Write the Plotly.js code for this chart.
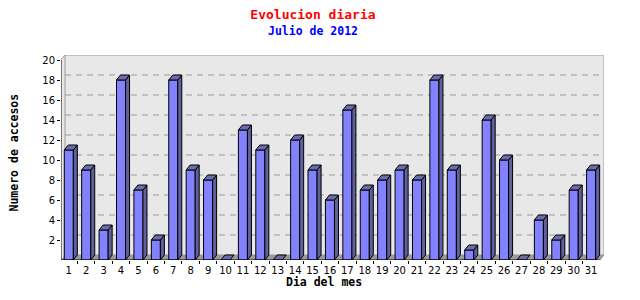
<!DOCTYPE html>
<html>
<head>
<meta charset="utf-8">
<script src="https://cdn.plot.ly/plotly-3.0.1.min.js"></script>
<style>html,body{margin:0;padding:0;background:#fff}#chart{width:640px;height:300px}</style>
</head>
<body>
<div id="chart"></div>
<script>
// ---- data ----
const days = [1,2,3,4,5,6,7,8,9,10,11,12,13,14,15,16,17,18,19,20,21,22,23,24,25,26,27,28,29,30,31];
const dayLabels = days.map(String);
const visits = [11,9,3,18,7,2,18,9,8,0,13,11,0,12,9,6,15,7,8,9,8,18,9,1,14,10,0,4,2,7,9];
const yTicks = [2,4,6,8,10,12,14,16,18,20];

const chartTitle = "Evolucion diaria";
const chartSubtitle = "Julio de 2012";
const xTitle = "Dia del mes";
const yTitle = "Numero de accesos";

// ---- 3D look parameters (in axis units) ----
const xr = [0.552, 31.74];
const yr = [0, 20.5];
const bw = 0.52;     // front face width
const dx = 0.23;     // depth offset along x
const dy = 0.5;      // depth offset along y

// side and top faces
const sideX = [], sideY = [], topX = [], topY = [];
days.forEach((d, i) => {
  const v = visits[i];
  const xl = d - bw / 2, xrr = d + bw / 2;
  if (v > 0) {
    sideX.push(xrr, xrr + dx, xrr + dx, xrr, xrr, null);
    sideY.push(0, dy, v + dy, v, 0, null);
  }
  topX.push(xl, xl + dx, xrr + dx, xrr, xl, null);
  topY.push(v, v + dy, v + dy, v, v, null);
});

const traces = [
  {type: 'bar', x: days, y: visits, width: bw,
   marker: {color: '#8282ff', line: {color: '#000', width: 1}},
   hoverinfo: 'skip'},
  {type: 'scatter', mode: 'lines', x: sideX, y: sideY, fill: 'toself',
   fillcolor: '#60609c', line: {color: '#000', width: 1}, hoverinfo: 'skip'},
  {type: 'scatter', mode: 'lines', x: topX, y: topY, fill: 'toself',
   fillcolor: '#6c6cac', line: {color: '#000', width: 1}, hoverinfo: 'skip'},
  // invisible trace to activate xaxis2 (boundary ticks)
  {type: 'scatter', mode: 'markers', x: [xr[0]], y: [0], xaxis: 'x2',
   marker: {opacity: 0}, hoverinfo: 'skip'}
];

const shapes = [];
const x0 = xr[0], x1 = xr[1];
// left wall
shapes.push({type: 'path', layer: 'below', xref: 'x', yref: 'y',
  path: `M${x0},0 L${x0+dx},${dy} L${x0+dx},${yr[1]} L${x0},${yr[1]-dy} Z`,
  fillcolor: '#e8e8e8', line: {width: 0}});
// back wall
shapes.push({type: 'rect', layer: 'below', xref: 'x', yref: 'y',
  x0: x0 + dx, x1: x1, y0: dy, y1: yr[1],
  fillcolor: '#e8e8e8', line: {color: '#9a9a9a', width: 1}});
// grid lines on back wall
yTicks.slice(0, -1).forEach(v => {
  shapes.push({type: 'line', layer: 'below', xref: 'x', yref: 'y',
    x0: x0 + dx, x1: x1, y0: v + dy, y1: v + dy,
    line: {color: '#9a9a9a', width: 1, dash: '6px,5px'}});
});
// floor
shapes.push({type: 'path', layer: 'below', xref: 'x', yref: 'y',
  path: `M${x0},0 L${x0+dx},${dy} L${x1},${dy} L${x1-dx},0 Z`,
  fillcolor: '#9a9a9a', line: {width: 0}});
// left top diagonal
shapes.push({type: 'line', layer: 'below', xref: 'x', yref: 'y',
  x0: x0, y0: yr[1] - dy, x1: x0 + dx, y1: yr[1], line: {color: '#9a9a9a', width: 1}});
// front axis lines
shapes.push({type: 'line', layer: 'above', xref: 'x', yref: 'y',
  x0: x0, y0: 0, x1: x0, y1: yr[1] - dy, line: {color: '#000', width: 1}});
shapes.push({type: 'line', layer: 'above', xref: 'x', yref: 'y',
  x0: x0, y0: 0, x1: x1 - dx, y1: 0, line: {color: '#000', width: 1}});
shapes.push({type: 'line', layer: 'above', xref: 'x', yref: 'y',
  x0: x1 - dx, y0: 0, x1: x1, y1: dy, line: {color: '#9a9a9a', width: 1}});

const mono = '"DejaVu Sans Mono", monospace';
const boundaryTicks = days.slice(0, -1).map(d => d + 0.5);

const layout = {
  width: 640, height: 300,
  margin: {l: 61, r: 36, t: 55, b: 40},
  paper_bgcolor: '#fff', plot_bgcolor: '#fff',
  showlegend: false,
  title: {text: chartTitle, x: 0.489, xanchor: 'center', y: 0.953, yanchor: 'middle',
          yref: 'container', font: {family: mono, size: 13, color: '#ff0000', weight: 'bold'}},
  xaxis: {range: xr, tickvals: days, ticktext: dayLabels, ticks: '', showgrid: false,
          zeroline: false, showline: false, fixedrange: true, ticklabelstandoff: 3,
          tickfont: {family: '"DejaVu Sans", sans-serif', size: 10, color: '#000'}},
  xaxis2: {range: xr, overlaying: 'x', side: 'bottom', tickvals: boundaryTicks,
           ticks: 'outside', ticklen: 3, tickcolor: '#000', showticklabels: false,
           showgrid: false, zeroline: false, showline: false},
  yaxis: {range: yr, tickvals: yTicks, ticks: 'outside', ticklen: 3, tickcolor: '#000',
          showgrid: false, zeroline: false, showline: false, fixedrange: true,
          tickfont: {family: '"DejaVu Sans", sans-serif', size: 10, color: '#000'}},
  shapes: shapes,
  annotations: [
    {text: chartSubtitle, xref: 'paper', yref: 'paper', x: (313 - 61) / 543, y: (260 - 31.5) / 205,
     xanchor: 'center', yanchor: 'middle', showarrow: false,
     font: {family: mono, size: 11.5, color: '#0000ff', weight: 'bold'}},
    {text: xTitle, xref: 'paper', yref: 'paper', x: (324 - 61) / 543, y: (260 - 281.5) / 205,
     xanchor: 'center', yanchor: 'middle', showarrow: false,
     font: {family: mono, size: 11.5, color: '#000', weight: 'bold'}},
    {text: yTitle, xref: 'paper', yref: 'paper', x: 0, xshift: -48, y: (260 - 152.5) / 205,
     xanchor: 'center', yanchor: 'middle', showarrow: false, textangle: -90,
     font: {family: mono, size: 11.5, color: '#000', weight: 'bold'}}
  ]
};

Plotly.newPlot('chart', traces, layout, {staticPlot: true, displayModeBar: false});
</script>
</body>
</html>
